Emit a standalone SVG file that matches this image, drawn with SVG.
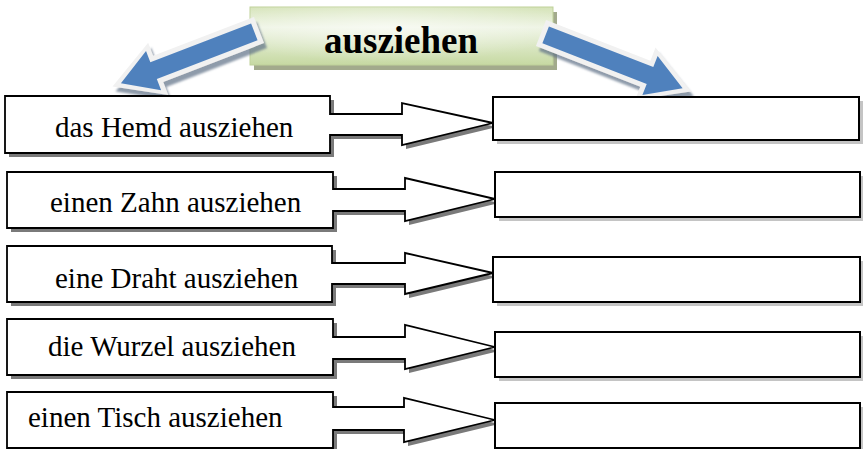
<svg xmlns="http://www.w3.org/2000/svg" width="863" height="449" viewBox="0 0 863 449">
  <defs>
    <linearGradient id="titleGrad" x1="0" y1="0" x2="0" y2="1">
      <stop offset="0" stop-color="#d5e3b8"/>
      <stop offset="0.35" stop-color="#eef4e4"/>
      <stop offset="1" stop-color="#c6d9a2"/>
    </linearGradient>
    <radialGradient id="titleGlow" cx="0.45" cy="0.35" r="0.6">
      <stop offset="0" stop-color="#ffffff" stop-opacity="0.55"/>
      <stop offset="1" stop-color="#ffffff" stop-opacity="0"/>
    </radialGradient>
    <filter id="arrowShadow" x="-20%" y="-40%" width="140%" height="180%">
      <feDropShadow dx="3" dy="5" stdDeviation="1.2" flood-color="#5f6f86" flood-opacity="0.7"/>
    </filter>
  </defs>
  <style>
    .callout { fill: #ffffff; stroke: #000000; stroke-width: 1.8; stroke-linejoin: miter; }
    .calloutShadow { fill: #7a7a7a; }
    .answer { fill: #ffffff; stroke: #000000; stroke-width: 2; }
    .answerShadow { fill: #c4c4c4; }
    .label { font-family: "Liberation Serif", "Times New Roman", serif; font-size: 29px; fill: #000000; }
    .title { font-family: "Liberation Serif", "Times New Roman", serif; font-size: 37px; font-weight: bold; fill: #000000; }
    .arrowOuter { fill: #f1f1f1; }
    .arrowInner { fill: #4f81bd; }
  </style>

  <!-- title node -->
  <g id="title">
    <rect x="254" y="12" width="303" height="58" fill="#a2aa8c"/>
    <rect x="250" y="7" width="303" height="58" fill="url(#titleGrad)" stroke="#bfd19a" stroke-width="1"/>
    <rect x="250" y="7" width="303" height="58" fill="url(#titleGlow)"/>
    <text class="title" x="401" y="53" text-anchor="middle">ausziehen</text>
  </g>

  <!-- connectors: blue block arrows from the title -->
  <g id="connectors">
    <g id="arrow-left" filter="url(#arrowShadow)">
      <g transform="translate(259 30) rotate(158.9)">
        <polygon class="arrowOuter" points="0,-14 108,-14 108,-28 157,0 108,28 108,14 0,14"/>
        <polygon class="arrowInner" points="5,-9 113,-9 113,-21 148,0 113,21 113,9 5,9"/>
      </g>
    </g>
    <g id="arrow-right" filter="url(#arrowShadow)">
      <g transform="translate(541 33) rotate(21.3)">
        <polygon class="arrowOuter" points="0,-14 112,-14 112,-28 161,0 112,28 112,14 0,14"/>
        <polygon class="arrowInner" points="5,-9 117,-9 117,-21 152,0 117,21 117,9 5,9"/>
      </g>
    </g>
  </g>

  <!-- row 1 -->
  <g id="row1-left">
    <path class="calloutShadow" transform="translate(4 4)" d="M5,96 H330 V114 H402 V103 L493,123 L402,145 V135 H330 V153 H5 Z"/>
    <path class="callout" d="M5,96 H330 V114 H402 V103 L493,123 L402,145 V135 H330 V153 H5 Z"/>
    <text class="label" x="55" y="137">das Hemd ausziehen</text>
  </g>
  <g id="row1-right">
    <rect class="answerShadow" x="497" y="101" width="366" height="43"/>
    <rect class="answer" x="493" y="97" width="366" height="43"/>
  </g>

  <!-- row 2 -->
  <g id="row2-left">
    <path class="calloutShadow" transform="translate(4 4)" d="M7,172 H333 V189 H405 V178 L495,199 L405,221 V211 H333 V228 H7 Z"/>
    <path class="callout" d="M7,172 H333 V189 H405 V178 L495,199 L405,221 V211 H333 V228 H7 Z"/>
    <text class="label" x="50" y="212">einen Zahn ausziehen</text>
  </g>
  <g id="row2-right">
    <rect class="answerShadow" x="499" y="176" width="365" height="45"/>
    <rect class="answer" x="495" y="172" width="365" height="45"/>
  </g>

  <!-- row 3 -->
  <g id="row3-left">
    <path class="calloutShadow" transform="translate(4 4)" d="M7,246 H332 V263 H405 V253 L493,273 L405,294 V284 H332 V302 H7 Z"/>
    <path class="callout" d="M7,246 H332 V263 H405 V253 L493,273 L405,294 V284 H332 V302 H7 Z"/>
    <text class="label" x="55" y="288">eine Draht ausziehen</text>
  </g>
  <g id="row3-right">
    <rect class="answerShadow" x="497" y="261" width="367" height="45"/>
    <rect class="answer" x="493" y="257" width="367" height="45"/>
  </g>

  <!-- row 4 -->
  <g id="row4-left">
    <path class="calloutShadow" transform="translate(4 4)" d="M7,319 H333 V337 H405 V325 L495,347 L405,369 V359 H333 V375 H7 Z"/>
    <path class="callout" d="M7,319 H333 V337 H405 V325 L495,347 L405,369 V359 H333 V375 H7 Z"/>
    <text class="label" x="48" y="356">die Wurzel ausziehen</text>
  </g>
  <g id="row4-right">
    <rect class="answerShadow" x="499" y="336" width="365" height="45"/>
    <rect class="answer" x="495" y="332" width="365" height="45"/>
  </g>

  <!-- row 5 -->
  <g id="row5-left">
    <path class="calloutShadow" transform="translate(4 4)" d="M7,392 H333 V407 H404 V398 L495,420 L404,442 V430 H333 V448 H7 Z"/>
    <path class="callout" d="M7,392 H333 V407 H404 V398 L495,420 L404,442 V430 H333 V448 H7 Z"/>
    <text class="label" x="28" y="427">einen Tisch ausziehen</text>
  </g>
  <g id="row5-right">
    <rect class="answerShadow" x="499" y="407" width="365" height="45"/>
    <rect class="answer" x="495" y="403" width="365" height="45"/>
  </g>
</svg>
